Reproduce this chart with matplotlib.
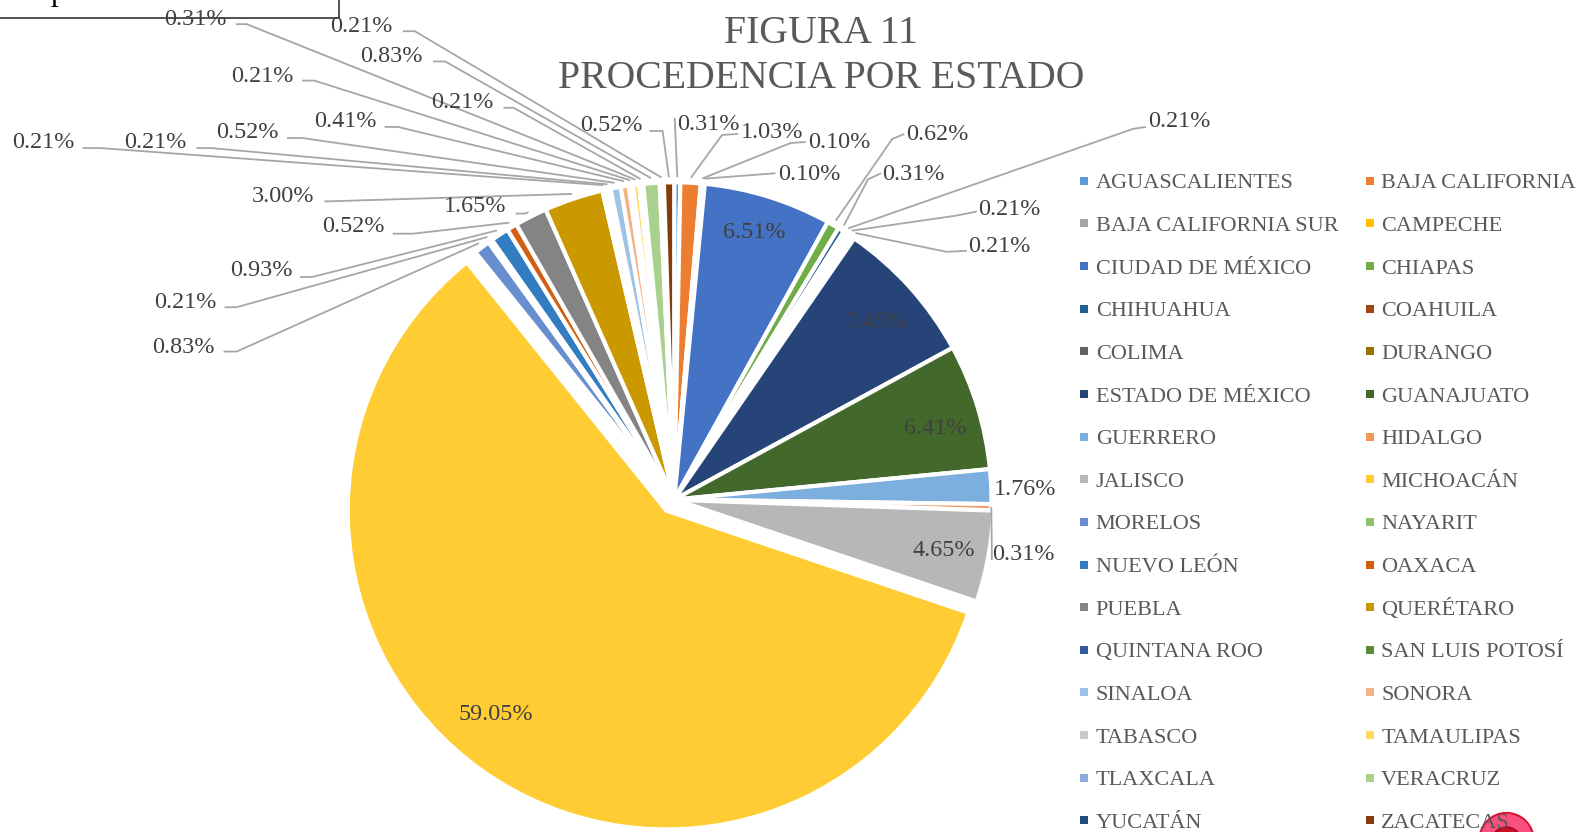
import numpy as np
import matplotlib
matplotlib.use("Agg")
import matplotlib.pyplot as plt
from matplotlib.patches import Circle

estados = ["AGUASCALIENTES","BAJA CALIFORNIA","BAJA CALIFORNIA SUR","CAMPECHE","CIUDAD DE MÉXICO","CHIAPAS",
           "CHIHUAHUA","COAHUILA","COLIMA","DURANGO","ESTADO DE MÉXICO","GUANAJUATO","GUERRERO","HIDALGO",
           "JALISCO","MICHOACÁN","MORELOS","NAYARIT","NUEVO LEÓN","OAXACA","PUEBLA","QUERÉTARO",
           "QUINTANA ROO","SAN LUIS POTOSÍ","SINALOA","SONORA","TABASCO","TAMAULIPAS","TLAXCALA","VERACRUZ",
           "YUCATÁN","ZACATECAS"]
porcentajes = [0.31,1.03,0.10,0.10,6.51,0.62,0.31,0.21,0.21,0.21,7.45,6.41,1.76,0.31,4.65,59.05,
               0.83,0.21,0.93,0.52,1.65,3.00,0.21,0.21,0.52,0.41,0.21,0.31,0.21,0.83,0.21,0.52]
colores = ["#5B9BD5","#ED7D31","#A5A5A5","#FFC000","#4472C4","#70AD47","#255E91","#9E480E","#636363","#997300",
           "#264478","#43682B","#7CAFDD","#F1975A","#B7B7B7","#FFCD33","#698ED0","#8CC168","#327DC2","#D26012",
           "#848484","#CA9900","#335AA1","#5A8B39","#9DC3E6","#F4B183","#C9C9C9","#FFD966","#8FAADC","#A9D18E",
           "#1F4E79","#843C0C"]

W, H = 1568, 826
def Y(y): return H - y

label_pos = [(703,121),(767,129),(833,139),(804,171),(749,228),(931,131),(907,171),(1171,118),(1002,205),(992,242),
             (870,318),(929,423),(1018,483),(1016,548),(937,544),(492,707),
             (182,342),(184,298),(260,266),(351,222),(472,203),(281,193),(43,139),(154,139),(246,129),(343,118),
             (260,73),(194,17),(459,99),(389,54),(359,24),(607,122)]
leader = [[(670,117)],[(733,133),(717,134)],[(800,141),(785,142)],[(770,172)],None,[(898,133),(886,138)],
          [(875,172),(862,178)],[(1138,126),(1125,128)],[(970,210),(950,214)],[(960,249),(940,250)],
          None,None,None,[(985,556)],None,None,
          [(222,349),(235,349)],[(223,305),(235,305)],[(298,275),(310,275)],[(390,232),(410,232)],
          [(512,212),(522,212)],[(322,200)],[(82,147),(100,147)],[(195,147),(210,147)],[(285,137),(300,137)],
          [(382,126),(395,126)],[(300,80),(312,80)],[(234,24),(245,24)],[(500,107),(510,107)],[(430,61),(442,61)],
          [(400,31),(412,31)],[(645,130),(658,130)]]

CX, CY, R = 669.5, 496, 315
explode = [13.4 if e == "MICHOACÁN" else 2 if e == "JALISCO" else 0 for e in estados]

plt.rcParams["font.family"] = ["Liberation Serif", "DejaVu Serif"]
fig = plt.figure(figsize=(15.79, 8.32), dpi=100)
ax = fig.add_axes([0, 0, 1, 1])
wedges, _ = ax.pie(porcentajes, colors=colores, explode=explode, center=(CX, Y(CY)), radius=R,
                   startangle=90, counterclock=False, normalize=True,
                   wedgeprops=dict(edgecolor="white", linewidth=3.0))
ax.set_xlim(0, W); ax.set_ylim(0, H); ax.set_aspect("auto"); ax.axis("off")
wedges[estados.index("MICHOACÁN")].set_radius(R + 1.5)

ax.plot([0, 337, 337], [Y(18), Y(18), Y(0)], color="#222222", lw=1.1, zorder=5)
ax.text(58, Y(0), "p", fontsize=22, color="black", ha="center", va="baseline", zorder=5)

ax.add_patch(Circle((1496, Y(834)), 27, fc="#F9507F", ec="#D81030", lw=1.4, zorder=1))
ax.add_patch(Circle((1496, Y(836)), 15, fc="#C81028", ec="#A00820", lw=1, zorder=1))

frac = np.array(porcentajes) / np.sum(porcentajes)
mid = (np.cumsum(frac) - frac / 2) * 2 * np.pi
for i, (p, pos, ld) in enumerate(zip(porcentajes, label_pos, leader)):
    ax.text(pos[0], Y(pos[1] + 2.5), f"{p:.2f}%", fontsize=17.4, color="#404040", ha="center", va="center", zorder=6)
    if ld:
        gap = 0 if estados[i] == "HIDALGO" else 5
        ex = CX + (R + gap) * np.sin(mid[i])
        ey = CY - (R + gap) * np.cos(mid[i])
        xs = [q[0] for q in ld] + [ex]
        ys = [Y(q[1]) for q in ld] + [Y(ey)]
        ax.plot(xs, ys, color="#A6A6A6", lw=1.3, zorder=3, solid_capstyle="butt")

# legend: two columns, filled row by row
for i, (e, c) in enumerate(zip(estados, colores)):
    col, row = i % 2, i // 2
    ym = 179.5 + 42.33 * row
    ax.plot(1076 + 284 * col, Y(ym), marker="s", ms=5.6, mfc=c, mec=c, mew=0, ls="none", zorder=4)
    ax.text(1088 + 283.5 * col, Y(ym + 7.5), e, fontsize=16, color="#595959", ha="left", va="baseline", zorder=6)

fig.text(815/W, 1 - 33/H, "FIGURA 11", fontsize=28.6, color="#595959", ha="center", va="center")
fig.text(815/W, 1 - 78/H, "PROCEDENCIA POR ESTADO", fontsize=28.6, color="#595959", ha="center", va="center")

fig.savefig("out.png", dpi=100)
